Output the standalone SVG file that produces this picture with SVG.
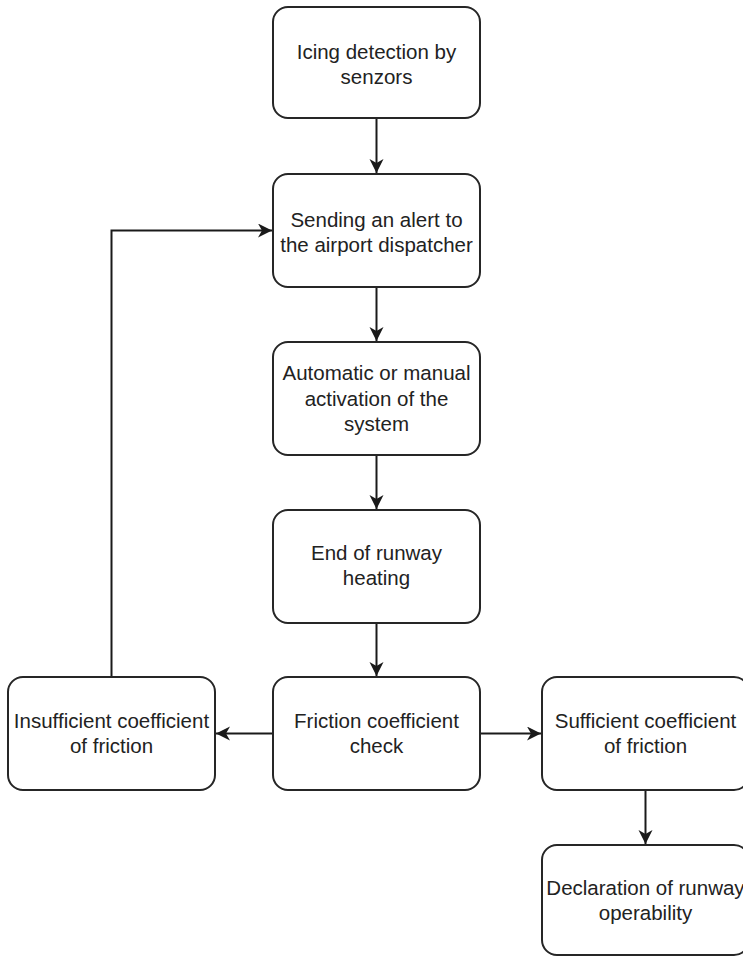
<svg xmlns="http://www.w3.org/2000/svg" width="743" height="957" viewBox="0 0 743 957">
<style>
.box{fill:#fff;stroke:#262626;stroke-width:2}
.t{font-family:"Liberation Sans",Arial,sans-serif;font-size:20.5px;fill:#222;text-anchor:middle}
.c{fill:none;stroke:#1a1a1a;stroke-width:2;marker-end:url(#ah)}
</style>
<defs>
<marker id="ah" markerUnits="userSpaceOnUse" markerWidth="16" markerHeight="16" refX="14" refY="7" orient="auto">
<path d="M0,0 L14,7 L0,14 L4,7 z" fill="#1a1a1a"/>
</marker>
</defs>
<rect width="743" height="957" fill="#fff"/>
<g id="connectors">
<path class="c" d="M376.5,118 V173"/>
<path class="c" d="M376.5,287 V341"/>
<path class="c" d="M376.5,455 V509"/>
<path class="c" d="M376.5,623 V676"/>
<path class="c" d="M273,733.5 H216"/>
<path class="c" d="M480,733.5 H541"/>
<path class="c" d="M645.5,790 V844"/>
<path class="c" d="M111.5,677 V230.5 H272"/>
</g>
<g id="n1"><rect class="box" x="273" y="7" width="207" height="111" rx="15"/>
<text class="t" x="376.5" y="59">Icing detection by</text><text class="t" x="376.5" y="84">senzors</text></g>
<g id="n2"><rect class="box" x="273" y="174" width="207" height="113" rx="15"/>
<text class="t" x="376.5" y="226.5">Sending an alert to</text><text class="t" x="376.5" y="252">the airport dispatcher</text></g>
<g id="n3"><rect class="box" x="273" y="342" width="207" height="113" rx="15"/>
<text class="t" x="376.5" y="380">Automatic or manual</text><text class="t" x="376.5" y="405.5">activation of the</text><text class="t" x="376.5" y="431">system</text></g>
<g id="n4"><rect class="box" x="273" y="510" width="207" height="113" rx="15"/>
<text class="t" x="376.5" y="560">End of runway</text><text class="t" x="376.5" y="585">heating</text></g>
<g id="n5"><rect class="box" x="273" y="677" width="207" height="113" rx="15"/>
<text class="t" x="376.5" y="728">Friction coefficient</text><text class="t" x="376.5" y="753">check</text></g>
<g id="n6"><rect class="box" x="8" y="677" width="207" height="113" rx="15"/>
<text class="t" x="111.5" y="728">Insufficient coefficient</text><text class="t" x="111.5" y="753">of friction</text></g>
<g id="n7"><rect class="box" x="542" y="677" width="207" height="113" rx="15"/>
<text class="t" x="645.5" y="728">Sufficient coefficient</text><text class="t" x="645.5" y="753">of friction</text></g>
<g id="n8"><rect class="box" x="542" y="845" width="207" height="110" rx="15"/>
<text class="t" x="645.5" y="895">Declaration of runway</text><text class="t" x="645.5" y="920">operability</text></g>
</svg>
